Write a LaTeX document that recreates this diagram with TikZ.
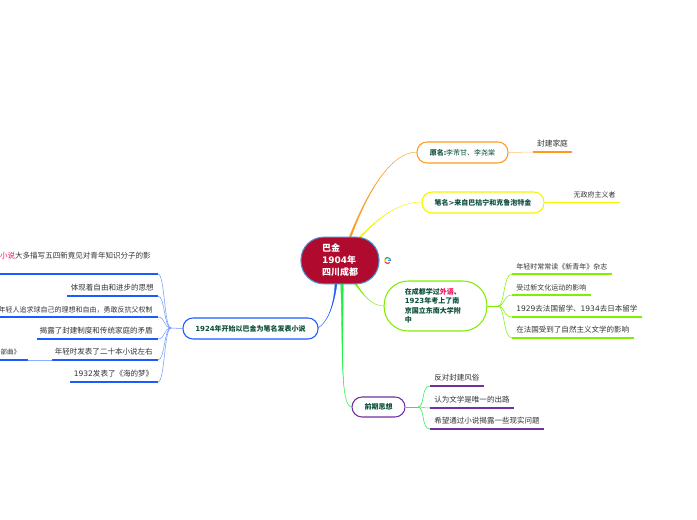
\documentclass[tikz,border=0pt]{standalone}
\usepackage{fontspec}
\setmainfont{Noto Sans CJK SC}
\newfontfamily\dvfont{DejaVu Sans}
\newcommand\nm[1]{{\dvfont #1}}
\definecolor{rootred}{HTML}{B00B2E}
\definecolor{rootblue}{HTML}{4A8FD0}
\definecolor{cOrange}{HTML}{FF9A1F}
\definecolor{cYellow}{HTML}{F5F500}
\definecolor{cLime}{HTML}{80F000}
\definecolor{cPurple}{HTML}{7030A0}
\definecolor{cBlue}{HTML}{1A5CFF}
\definecolor{cGreen}{HTML}{22EE44}
\definecolor{tdark}{HTML}{0B4F3C}
\definecolor{tleaf}{HTML}{333333}
\definecolor{tpink}{HTML}{F0145A}
\definecolor{gRed}{HTML}{EA4335}
\definecolor{gYellow}{HTML}{FBBC05}
\definecolor{gGreen}{HTML}{34A853}
\definecolor{gBlue}{HTML}{4285F4}
\usetikzlibrary{calc}
\newcommand\fsA{\fontsize{5.25}{6.5}\selectfont}
\newcommand\fsB{\fontsize{5.65}{7}\selectfont}
\tikzset{
  x=.75pt,y=-.75pt,
  topic/.style={draw,fill=white,line width=.8pt,rectangle,rounded corners=7.5pt,inner sep=0pt,
     text=tdark,font=\fontsize{5.25}{7.1}\selectfont\bfseries,align=center},
  leaftext/.style={inner sep=0pt,text=tleaf,font=\fsB},
  underl/.style={line width=1pt},
  fan/.style={line width=.4pt},
  gmark/.style={line width=.9pt},
}
% name, x1, x2, y of line, text y, anchor x, anchor, colour, text
\newcommand\leafnode[9]{%
  \coordinate (#1s) at (#2,#4);
  \coordinate (#1e) at (#3,#4);
  \node[leaftext,anchor=#7] (#1) at (#6,#5) {#9};
  \draw[underl,#8] (#1s) -- (#1e);
}
% tapered link: from, c1, c2, to, colour, half width in px
\newcommand\taper[6]{%
  \draw[#5,fill=#5,line width=.25pt] ($(#1)+(-#6,0)$) .. controls #2 and #3 .. (#4)
    .. controls #3 and #2 .. ($(#1)+(#6,0)$) -- cycle;
}
% fan curve on the right side
\newcommand\fanR[3]{\draw[fan,#3] (#1) .. controls ($(#1)+(7,0)$) and ($(#2)+(-9,0)$) .. (#2);}
\begin{document}
\begin{tikzpicture}
\useasboundingbox (0,0) rectangle (697,520);
\fill[white] (0,0) rectangle (697,520);
\clip (0,0) rectangle (697,520);

% attachment points
\coordinate (rO) at (350,237.5);
\coordinate (rY) at (360,237.5);
\coordinate (rL) at (355,283);
\coordinate (rG) at (342,284);
\coordinate (rB) at (336,284);
\coordinate (tO) at (417,152);
\coordinate (tY) at (422,202);
\coordinate (tL) at (384,306);
\coordinate (tP) at (352,407);
\coordinate (tB) at (318,328);

% main branches
\taper{rO}{(366,195)}{(390,152)}{tO}{cOrange}{1}
\taper{rY}{(378,218)}{(398,202)}{tY}{cYellow}{1}
\taper{rL}{(364,296)}{(372,306)}{tL}{cLime}{1}
\taper{rG}{(343,350)}{(340,407)}{tP}{cGreen}{1.3}
\taper{rB}{(334,305)}{(328,322)}{tB}{cBlue}{1}

% root
\node[draw=rootblue,fill=rootred,line width=.8pt,rectangle,rounded corners=17pt,inner sep=0pt,
      minimum width=58.5pt,minimum height=35pt,text=white,align=left,
      font=\fontsize{6.75}{9}\selectfont\bfseries] (root) at (340,260.5)
  {巴金\\ \nm{1904}年\\ 四川成都};

% Google mark
\coordinate (gc) at (387.5,260.5);
\draw[gmark,gRed] (gc) ++(150:3) arc[start angle=150,end angle=40,radius=3];
\draw[gmark,gYellow] (gc) ++(215:3) arc[start angle=215,end angle=150,radius=3];
\draw[gmark,gGreen] (gc) ++(320:3) arc[start angle=320,end angle=215,radius=3];
\draw[gmark,gBlue] (gc) ++(0:3) arc[start angle=0,end angle=-40,radius=3];
\draw[gmark,gBlue] (gc) ++(0:3) -- (gc);

% topics
\node[topic,draw=cOrange,minimum width=68.25pt,minimum height=15.75pt] (orig) at (462.5,152.5)
  {原名:{\mdseries 李芾甘、李尧棠}};
\node[topic,draw=cYellow,minimum width=91.5pt,minimum height=15.75pt] (pen) at (483,202.5)
  {笔名\nm{>}来自巴枯宁和克鲁泡特金};
\node[topic,draw=cLime,rounded corners=18pt,minimum width=77pt,minimum height=37.5pt,text width=46pt,align=left] (edu) at (435.5,306)
  {在成都学过{\color{tpink}外语}、\\ \nm{1923}年考上了南\\ 京国立东南大学附\\ 中};
\node[topic,draw=cPurple,minimum width=39.75pt,minimum height=15pt] (idea) at (378.5,407)
  {前期思想};
\node[topic,draw=cBlue,minimum width=101.25pt,minimum height=15.75pt] (novel) at (250.5,328.5)
  {\nm{1924}年开始以巴金为笔名发表小说};

% orange and yellow leaves
\leafnode{a}{533}{572}{152}{144}{552.5}{center}{cOrange}{\fontsize{5.8}{7}\selectfont 封建家庭}
\draw[fan,cOrange!60] (orig.east) -- (as);
\leafnode{b}{569}{620}{202.5}{194.5}{594.5}{center}{cYellow}{\fsA 无政府主义者}
\draw[fan,cYellow] (pen.east) -- (bs);

% lime leaves
\coordinate (ef) at (498,306);
\draw[fan,cLime] (edu.east) -- (ef);
\leafnode{c1}{512}{612}{274}{267}{516}{west}{cLime}{\fsA 年轻时常常读《新青年》杂志}
\leafnode{c2}{512}{591}{295}{287.5}{516}{west}{cLime}{\fsA 受过新文化运动的影响}
\leafnode{c3}{512}{642}{317}{308.5}{516}{west}{cLime}{\nm{1929}去法国留学、\nm{1934}去日本留学}
\leafnode{c4}{512}{634}{338}{330}{516}{west}{cLime}{在法国受到了自然主义文学的影响}
\fanR{ef}{c1s}{cLime}
\fanR{ef}{c2s}{cLime}
\fanR{ef}{c3s}{cLime}
\fanR{ef}{c4s}{cLime}

% purple leaves
\coordinate (pf) at (418,407);
\draw[fan,cGreen] (idea.east) -- (pf);
\leafnode{p1}{430}{484}{386}{377.5}{434}{west}{cPurple}{反对封建风俗}
\leafnode{p2}{430}{514}{408}{399.5}{434}{west}{cPurple}{认为文学是唯一的出路}
\leafnode{p3}{430}{544}{429}{421}{434}{west}{cPurple}{希望通过小说揭露一些现实问题}
\fanR{pf}{p1s}{cGreen}
\fanR{pf}{p2s}{cGreen}
\fanR{pf}{p3s}{cGreen}

% blue leaves
\coordinate (bf) at (171,328);
\draw[fan,cBlue!70] (novel.west) -- (bf);
\leafnode{d1}{158}{-2}{274}{256}{151}{east}{cBlue}{{\color{tpink}小说}大多描写五四新竟见对青年知识分子的影}
\leafnode{d2}{158}{67}{296}{288}{154}{east}{cBlue}{体现着自由和进步的思想}
\leafnode{d3}{158}{-2}{317}{309.5}{153}{east}{cBlue}{\fsA 年轻人追求球自己的理想和自由，勇敢反抗父权制}
\leafnode{d4}{158}{37}{339}{331}{153}{east}{cBlue}{揭露了封建制度和传统家庭的矛盾}
\leafnode{d5}{158}{52}{360}{352}{153}{east}{cBlue}{年轻时发表了二十本小说左右}
\leafnode{d6}{158}{70}{382}{373.5}{153.5}{east}{cBlue}{\nm{1932}发表了《海的梦》}
\foreach \n in {d1,d2,d3,d4,d5,d6}{
  \draw[fan,cBlue!60] (bf) .. controls ($(bf)+(-7,0)$) and ($(\n s)+(7,0)$) .. (\n s);
}
% sub-leaf at the left edge
\coordinate (e1s) at (28,360);
\coordinate (e1e) at (-2,360);
\node[leaftext,anchor=east,font=\fontsize{4.9}{6}\selectfont] (e1) at (20.5,352) {部曲》};
\draw[underl,cBlue] (e1s) -- (e1e);
\draw[fan,cBlue!50] (d5e) -- (e1s);
\end{tikzpicture}
\end{document}
